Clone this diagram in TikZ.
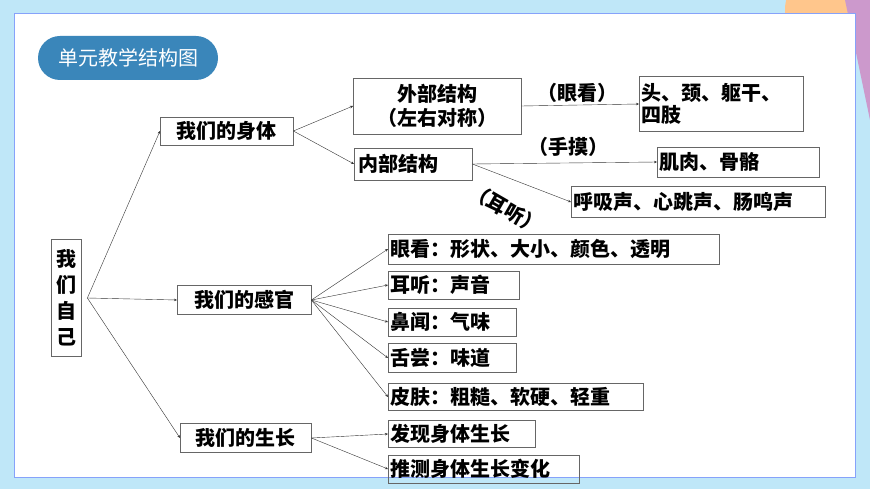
\documentclass[tikz,border=0pt]{standalone}
\usepackage{fontspec}
\setmainfont{Noto Sans CJK SC}
\usetikzlibrary{arrows.meta, positioning}
\tikzstyle{block} = [draw=black!60, rectangle, font=\fontsize{20}{22}\selectfont\bfseries, inner sep=2pt, anchor=west, align=center, minimum height=28pt]
\tikzstyle{leaf} = [block, text width=#1, align=left]
\tikzstyle{label} = [font=\fontsize{20}{22}\selectfont\bfseries]
\tikzstyle{path} = [-{Stealth[length=3pt, width=2.5pt]}, black!80, line width=0.4pt]
\definecolor{pill}{HTML}{3A86BA}
\definecolor{backblue}{HTML}{BFE7F8}

\begin{document}
\begin{tikzpicture}[x=1pt, y=-1pt]
    \useasboundingbox (0,0) rectangle (870,489);
    % Background.
    \fill [backblue] (0,0) rectangle (870,489);
    \begin{scope}
        \clip (0,0) rectangle (870,489);
        \fill [orange!45] (830,10) circle (45);
        \fill [violet!40] (870,0) -- (845,0) -- (870,120) -- cycle;
    \end{scope}
    \fill [white] (14,13) rectangle (855,477);
    \draw [backblue!70!blue, line width=0.6pt] (14,13) rectangle (855,477);
    \node (title) [fill=pill, rounded corners=22pt, minimum width=180pt, minimum height=44pt, text=white, font=\fontsize{20}{22}\selectfont] at (128,58) {单元教学结构图};

    % Boxes.
    \node (self) [block, text width=22pt, minimum height=117pt, inner sep=4pt, font=\fontsize{20}{26}\selectfont\bfseries] at (51,298) {我\\们\\自\\己};
    \node (body) [block, minimum width=133pt] at (160,131) {我们的身体};
    \node (outer) [block, minimum width=168pt, minimum height=56pt, font=\fontsize{20}{24}\selectfont\bfseries] at (353,106) {外部结构\\（左右对称）};
    \node (inner) [block, minimum width=118pt, minimum height=32pt, text width=110pt, align=left] at (354,164) {内部结构};
    \node (limbs) [leaf=160pt, minimum height=55pt] at (639,104) {头、颈、躯干、\\四肢};
    \node (muscle) [leaf=158pt, minimum height=30pt] at (657,162) {肌肉、骨骼};
    \node (sound) [leaf=250pt, minimum height=31pt] at (571,202) {呼吸声、心跳声、肠鸣声};
    \node (senses) [block, minimum width=134pt, minimum height=29pt] at (177,300) {我们的感官};
    \node (eye) [leaf=327pt, minimum height=30pt] at (388,249) {眼看：形状、大小、颜色、透明};
    \node (ear) [leaf=127pt] at (388,285) {耳听：声音};
    \node (nose) [leaf=124pt] at (388,322) {鼻闻：气味};
    \node (tongue) [leaf=124pt, minimum height=29pt] at (388,358) {舌尝：味道};
    \node (skin) [leaf=251pt, minimum height=27pt] at (388,397) {皮肤：粗糙、软硬、轻重};
    \node (growth) [block, minimum width=131pt, minimum height=29pt] at (180,438) {我们的生长};
    \node (find) [leaf=143pt, minimum height=27pt] at (388,434) {发现身体生长};
    \node (guess) [leaf=187pt] at (388,469) {推测身体生长变化};

    % Labels.
    \node (look) [label] at (577,93) {（眼看）};
    \node (touch) [label] at (568,147) {（手摸）};
    \node (listen) [label, rotate=-30] at (506,209) {（耳听）};

    % Arrows.
    \coordinate (root) at ([xshift=6pt]self.east);
    \foreach \j in {body, senses, growth} {%
        \draw [path] (root) -- (\j.west);
    }
    \draw [path] (body.east) -- (outer.west);
    \draw [path] (body.east) -- (inner.west);
    \draw [path] (outer.east) -- (limbs.west);
    \draw [path] (inner.east) -- (muscle.west);
    \draw [path] (inner.east) -- (sound.west);
    \foreach \j in {eye, ear, nose, tongue, skin} {%
        \draw [path] (senses.east) -- (\j.west);
    }
    \draw [path] (growth.east) -- (find.west);
    \draw [path] (growth.east) -- (guess.west);
\end{tikzpicture}
\end{document}
